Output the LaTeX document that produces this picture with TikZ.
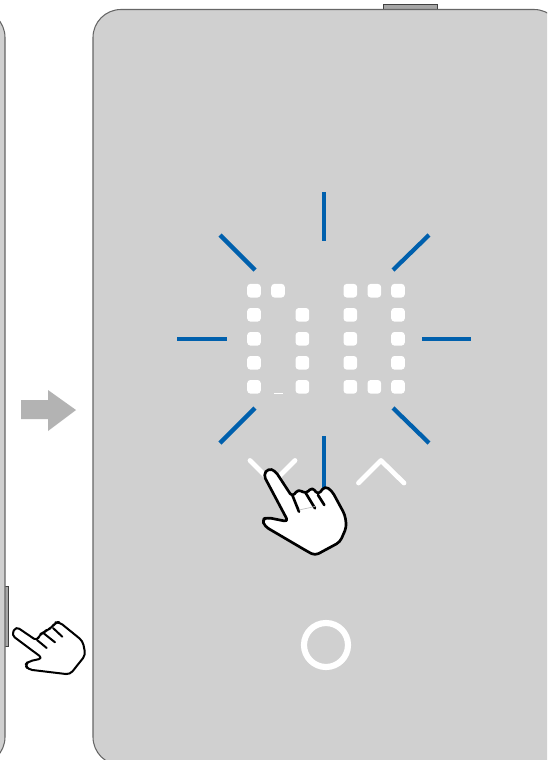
\documentclass[tikz,border=0pt]{standalone}
\usepackage{xcolor}
\usepackage{tikz}
\definecolor{bodygray}{HTML}{D0D0D0}
\definecolor{edgegray}{HTML}{666666}
\definecolor{keygray}{HTML}{A6A6A6}
\definecolor{arrowgray}{HTML}{B3B3B3}
\definecolor{rayblue}{HTML}{0060AD}
\begin{document}
\begin{tikzpicture}[
  x=0.75pt, y=-0.75pt,
  shell/.style={draw=edgegray, line width=0.8pt, fill=bodygray, rounded corners=21pt},
  sidekey/.style={draw=black!75, line width=0.7pt, fill=keygray},
  ray/.style={draw=rayblue, line width=3.2pt},
  chevron/.style={draw=white, line width=3.6pt, line cap=round, line join=round},
  hand/.style={draw=black, fill=white, line join=round, rounded corners=3pt},
  crease/.style={draw=black, line cap=round}]
\clip (0,0) rectangle (547,760);
\fill[white] (0,0) rectangle (547,760);
% side and top keys first, the shells cover their inner edge
\draw[sidekey] (4,586) rectangle (8.5,646);
\draw[sidekey] (383,4.5) rectangle (437.5,12);
\draw[shell] (-60,9.5) rectangle (5,765);
\draw[shell] (93,9.5) rectangle (562,765);
% arrow between the two views
\fill[arrowgray] (21,400) -- (48,400) -- (48,390) -- (76,410) -- (48,431) -- (48,419) -- (21,419) -- cycle;
% flashing rays
\foreach \xa/\ya/\xb/\yb in {324/192/324/241, 324/436/324/495, 177/339/227/339, 422/339/471/339,
    220/235/255/270, 429/235/393/270, 220/443/255/408, 429/443/393/408}
  \draw[ray] (\xa,\ya) -- (\xb,\yb);
% display dots
\foreach \cx/\cy in {254/290.7, 278/290.7, 254/314.8, 302.4/314.8, 254/338.8, 302.4/338.8,
    254/362.8, 302.4/362.8, 254/386.8, 302.4/386.8,
    350.3/290.7, 374.3/290.7, 398/290.7, 350.3/314.8, 398/314.8, 350.3/338.8, 398/338.8,
    350.3/362.8, 398/362.8, 350.3/386.8, 374.3/386.8, 398/386.8}
  \fill[white, rounded corners=2.4pt] (\cx-6.8,\cy-6.8) rectangle (\cx+6.8,\cy+6.8);
\draw[white, line width=0.4pt] (274,393.3) -- (283,393.3);
% down and up keys
\draw[chevron] (250,460.5) -- (272.5,483) -- (295,460.5);
\draw[chevron] (358.5,483) -- (381,460.5) -- (404,483);
% home key
\draw[white, line width=4.6pt] (326,645) circle (22);
% hand on the down key
\draw[hand, line width=2pt] (263.5,475) -- (268,468.5) -- (275,470.5) -- (292.3,497) -- (298.3,489)
  -- (305.7,494) -- (312.3,487) -- (318,495) -- (325,486) -- (332,491) -- (345,515)
  -- (346.5,527) -- (340,542) -- (315,555.5) -- (306.7,551) -- (265,526.5) -- (262,519.5)
  -- (267.3,517.5) -- (288.3,521.7) -- cycle;
\draw[crease, line width=2pt] (292.3,495) -- (299,511.7);
\draw[crease, line width=2pt] (305.7,493) -- (315,508.3);
\draw[crease, line width=2pt] (318,495) -- (324.3,505);
\draw[black!25, line width=0.5pt] (299,510) -- (315,506.5);
% hand on the side key
\draw[hand, line width=1.5pt] (11.5,635) -- (16,626.5) -- (37.3,641) -- (39.3,634.5) -- (44,632.5)
  -- (46.7,630) -- (52,627.7) -- (55,622.5) -- (59.3,622) -- (82.7,641) -- (85.5,655)
  -- (70,674.5) -- (28.3,669.5) -- (25,665) -- (28.3,661.5) -- (42.7,658.3) -- cycle;
\draw[crease, line width=1.5pt] (37,640) -- (46.7,648);
\draw[crease, line width=1.5pt] (43.3,633) -- (55,642.3);
\draw[crease, line width=1.5pt] (53,628) -- (62.3,636.7);
\end{tikzpicture}
\end{document}
